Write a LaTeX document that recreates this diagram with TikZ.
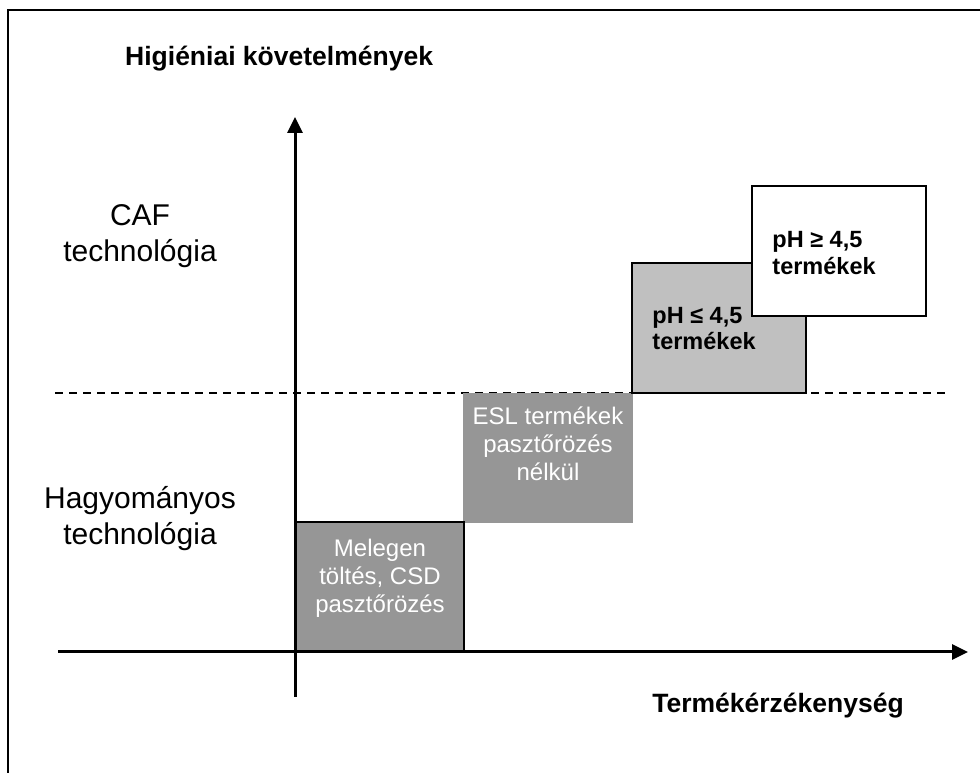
\documentclass[tikz,border=0pt]{standalone}
\usepackage{fontspec}
\setmainfont{Liberation Sans}
\usetikzlibrary{arrows.meta}
\definecolor{darkbox}{RGB}{150,150,150}
\definecolor{lightbox}{RGB}{192,192,192}
\begin{document}
\begin{tikzpicture}[x=1pt,y=1pt,
  axisline/.style={line width=3pt,-{Triangle[width=15pt,length=16pt]}},
  boxbase/.style={rectangle,inner sep=0pt,minimum width=#1,minimum height=130pt},
  darkfill/.style={boxbase=#1,fill=darkbox},
  framed/.style={draw=black,line width=1.5pt},
  boxtext/.style={inner sep=0pt,align=center,text=white,font=\fontsize{24}{28}\selectfont},
  phtext/.style={inner sep=0pt,align=left,anchor=west,font=\fontsize{23.5}{26.5}\selectfont\bfseries},
  sidelabel/.style={inner sep=0pt,align=center,font=\fontsize{30}{36}\selectfont},
  title/.style={inner sep=0pt,font=\fontsize{26.5}{30}\selectfont\bfseries}]
\useasboundingbox (0,0) rectangle (980,773);
% frame
\draw[line width=2pt] (8,0) -- (8,763) -- (980,763);
% dashed separator
\coordinate (dl) at (55,380);
\coordinate (dr) at (945,380);
\draw[line width=1.3pt,dash pattern=on 8pt off 6pt] (dl) -- (dr);
% boxes
\node[darkfill=170pt] (esl) at (548,315) {};
\node[darkfill=168pt,minimum height=129pt,framed] (mel) at (380,186.5) {};
\node[boxbase=174pt,fill=lightbox,framed] (phle) at (719,445) {};
\node[boxbase=174pt,fill=white,framed] (phge) at (839,522) {};
% box texts
\node[boxtext] (eslt) at ([yshift=14.5pt]esl.center) {ESL termékek\\pasztőrözés\\nélkül};
\node[boxtext] (melt) at ([yshift=8.5pt]mel.center) {Melegen\\töltés, CSD\\pasztőrözés};
\node[phtext] (phlet) at ([xshift=21pt,yshift=-0.5pt]phle.west) {pH ≤ 4,5\\termékek};
\node[phtext] (phget) at ([xshift=21pt,yshift=-2pt]phge.west) {pH ≥ 4,5\\termékek};
% axes
\coordinate (yb) at (295,76);
\coordinate (yt) at (295,656);
\coordinate (xl) at (58,121);
\coordinate (xr) at (968,121);
\draw[axisline] (yb) -- (yt);
\draw[axisline] (xl) -- (xr);
% labels
\node[title,anchor=base west] (ylab) at (125,707) {Higiéniai követelmények};
\node[title,anchor=base east] (xlab) at (904,60) {Termékérzékenység};
\node[sidelabel] (caf) at (140,537) {CAF\\technológia};
\node[sidelabel] (hag) at (140,254.5) {Hagyományos\\technológia};
\end{tikzpicture}
\end{document}
